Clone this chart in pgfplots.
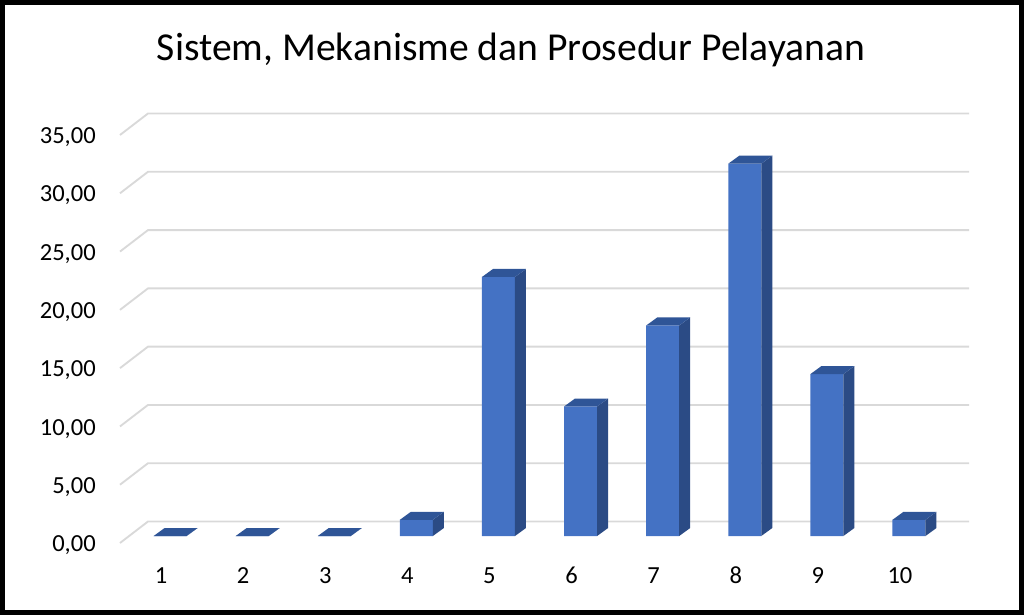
\documentclass[border=0pt]{standalone}
\usepackage{fontspec}
\setmainfont{Carlito}
\usepackage{pgfplots}
\usepackage{pgfplotstable}
\pgfplotsset{compat=1.18}

\definecolor{cfront}{HTML}{4472C4}
\definecolor{ctop}{HTML}{2F5597}
\definecolor{cside}{HTML}{2B4B85}
\definecolor{cgrid}{HTML}{D9D9D9}

% percentages per score
\pgfplotstableread{
x v
1 0
2 0
3 0
4 1.39
5 22.22
6 11.11
7 18.06
8 31.94
9 13.89
10 1.39
}\datatable

% oblique offsets in axis units
\def\gdx{0.341}\def\gdy{1.844}   % back wall
\def\fx{0.110}\def\fy{0.600}     % bar front face
\def\hw{0.201}                   % half bar width
\def\ddx{0.134}\def\ddy{0.686}   % bar depth

\begin{document}
\begin{tikzpicture}
\begin{axis}[
    at={(0pt,0pt)}, anchor=south west,
    width=615.75pt, height=306pt, scale only axis,
    xmin=0.5, xmax=10.5, ymin=0, ymax=35,
    clip=false,
    axis line style={draw=none},
    tick style={draw=none},
    xtick={1,...,10},
    ytick={0,5,...,35},
    tick label style={font=\fontsize{18.4}{22}\selectfont},
    /pgf/number format/assume math mode=true,
    yticklabel style={/pgf/number format/fixed, /pgf/number format/fixed zerofill,
        /pgf/number format/precision=2, /pgf/number format/use comma},
    every x tick label/.append style={anchor=base, inner sep=0pt, yshift=-30pt},
    every y tick label/.append style={anchor=base east, inner sep=0pt, xshift=-18pt, yshift=-6.5pt},
]
% gridlines: side wall diagonal and back wall
\pgfplotsinvokeforeach{0,5,...,35}{
  \addplot[cgrid, line width=1.4pt] coordinates {(0.5,#1) (0.5+\gdx,#1+\gdy) (10.5+\gdx,#1+\gdy)};
}
% 3D-looking columns
\pgfplotsforeachungrouped \i in {0,...,9}{
  \pgfplotstablegetelem{\i}{x}\of\datatable \let\cx\pgfplotsretval
  \pgfplotstablegetelem{\i}{v}\of\datatable \let\cv\pgfplotsretval
  \pgfmathsetmacro\xl{\cx+\fx-\hw}
  \pgfmathsetmacro\xr{\cx+\fx+\hw}
  \pgfmathsetmacro\xlb{\xl+\ddx}
  \pgfmathsetmacro\xrb{\xr+\ddx}
  \pgfmathsetmacro\yb{\fy}
  \pgfmathsetmacro\ybb{\fy+\ddy}
  \pgfmathsetmacro\yt{\cv+\fy}
  \pgfmathsetmacro\ytb{\cv+\fy+\ddy}
  \edef\temp{%
    \noexpand\addplot[fill=cfront, draw=none] coordinates {(\xl,\yb) (\xr,\yb) (\xr,\yt) (\xl,\yt) (\xl,\yb)};
    \noexpand\addplot[fill=cside, draw=none] coordinates {(\xr,\yb) (\xrb,\ybb) (\xrb,\ytb) (\xr,\yt) (\xr,\yb)};
    \noexpand\addplot[fill=ctop, draw=none] coordinates {(\xl,\yt) (\xr,\yt) (\xrb,\ytb) (\xlb,\ytb) (\xl,\yt)};
  }
  \temp
}
\end{axis}
\node[font=\fontsize{29.7}{35}\selectfont, anchor=base] at (293.25pt,361.5pt) {Sistem, Mekanisme dan Prosedur Pelayanan};
\draw[line width=3.5pt] (-88.25pt,-52.25pt) rectangle (676.25pt,405.5pt);
\end{tikzpicture}
\end{document}
